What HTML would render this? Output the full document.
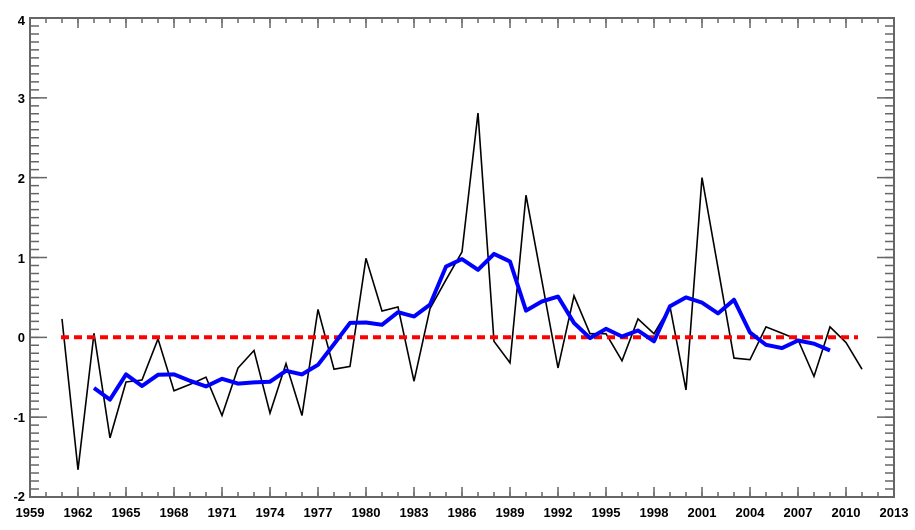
<!DOCTYPE html>
<html>
<head>
<meta charset="utf-8">
<style>
  html, body { margin: 0; padding: 0; background: #ffffff; }
  svg { display: block; }
  text { font-family: "Liberation Sans", sans-serif; font-size: 13px; font-weight: bold; fill: #000; }
</style>
</head>
<body>
<svg width="915" height="530" viewBox="0 0 915 530" xmlns="http://www.w3.org/2000/svg">
  <rect x="0" y="0" width="915" height="530" fill="#ffffff"/>

  <!-- ticks (dash trick) -->
  <g stroke="#666" fill="none">
    <!-- bottom minor / major -->
    <line x1="29.25" y1="494.5" x2="894.75" y2="494.5" stroke-width="5" stroke-dasharray="1.5 14.5"/>
    <line x1="29.25" y1="492" x2="894.75" y2="492" stroke-width="10" stroke-dasharray="1.5 46.5"/>
    <!-- top minor / major -->
    <line x1="29.25" y1="20.5" x2="894.75" y2="20.5" stroke-width="5" stroke-dasharray="1.5 14.5"/>
    <line x1="29.25" y1="23" x2="894.75" y2="23" stroke-width="10" stroke-dasharray="1.5 46.5"/>
    <!-- left minor / major -->
    <line x1="34.5" y1="17.25" x2="34.5" y2="497.75" stroke-width="9" stroke-dasharray="1.5 6.483"/>
    <line x1="38.5" y1="17.25" x2="38.5" y2="497.75" stroke-width="17" stroke-dasharray="1.5 78.33"/>
    <!-- right minor / major -->
    <line x1="889.5" y1="17.25" x2="889.5" y2="497.75" stroke-width="9" stroke-dasharray="1.5 6.483"/>
    <line x1="885.5" y1="17.25" x2="885.5" y2="497.75" stroke-width="17" stroke-dasharray="1.5 78.33"/>
  </g>

  <!-- axes box -->
  <rect x="30" y="18" width="864" height="479" fill="none" stroke="#666" stroke-width="2"/>

  <!-- y labels -->
  <g text-anchor="end">
    <text x="25" y="25">4</text>
    <text x="25" y="103">3</text>
    <text x="25" y="183">2</text>
    <text x="25" y="263">1</text>
    <text x="25" y="342">0</text>
    <text x="25" y="422">-1</text>
    <text x="25" y="501">-2</text>
  </g>

  <!-- x labels -->
  <g text-anchor="middle">
    <text x="30" y="517">1959</text>
    <text x="78" y="517">1962</text>
    <text x="126" y="517">1965</text>
    <text x="174" y="517">1968</text>
    <text x="222" y="517">1971</text>
    <text x="270" y="517">1974</text>
    <text x="318" y="517">1977</text>
    <text x="366" y="517">1980</text>
    <text x="414" y="517">1983</text>
    <text x="462" y="517">1986</text>
    <text x="510" y="517">1989</text>
    <text x="558" y="517">1992</text>
    <text x="606" y="517">1995</text>
    <text x="654" y="517">1998</text>
    <text x="702" y="517">2001</text>
    <text x="750" y="517">2004</text>
    <text x="798" y="517">2007</text>
    <text x="846" y="517">2010</text>
    <text x="894" y="517">2013</text>
  </g>

  <!-- black annual series -->
  <polyline fill="none" stroke="#000" stroke-width="1.6" stroke-linejoin="miter" points="
    62,318.9 78,469.8 94,333.3 110,437.9 126,382.0 142,380.0 158,338.9 174,390.8 190,384.4 206,377.2
    222,415.5 238,368.0 254,350.5 270,413.1 286,363.6 302,415.5 318,309.4 334,369.2 350,366.4 366,258.3
    382,311.0 398,307.0 414,381.2 430,308.6 446,279.8 462,251.9 478,113.0 494,341.3 510,362.8 526,195.2
    542,281.4 558,368.0 574,295.8 590,333.7 606,333.7 622,360.8 638,318.9 654,333.7 670,306.6 686,390.0
    702,177.6 718,267.8 734,358.1 750,359.7 766,326.9 782,333.3 798,339.7 814,376.4 830,326.9 846,342.5
    862,369.2"/>

  <!-- red dashed zero line -->
  <line x1="61" y1="337.3" x2="858" y2="337.3" stroke="#ff0000" stroke-width="4" stroke-dasharray="8 5"/>

  <!-- blue smoothed series -->
  <polyline fill="none" stroke="#0000ff" stroke-width="4" stroke-linejoin="round" points="
    94,388.0 110,399.6 126,374.4 142,386.0 158,374.8 174,374.4 190,380.8 206,386.4 222,378.8 238,383.6
    254,382.4 270,381.7 286,370.8 302,374.4 318,364.8 334,344.1 350,322.9 366,322.5 382,324.8 398,312.2
    414,316.5 430,304.6 446,266.6 462,259.1 478,269.8 494,253.9 510,261.5 526,310.6 542,301.4 558,296.6
    574,322.9 590,338.1 606,328.8 622,336.5 638,330.5 654,341.3 670,306.2 686,297.4 702,302.6 718,313.4
    734,299.8 750,332.5 766,344.8 782,348.1 798,340.5 814,343.7 830,350.5"/>
</svg>
</body>
</html>
